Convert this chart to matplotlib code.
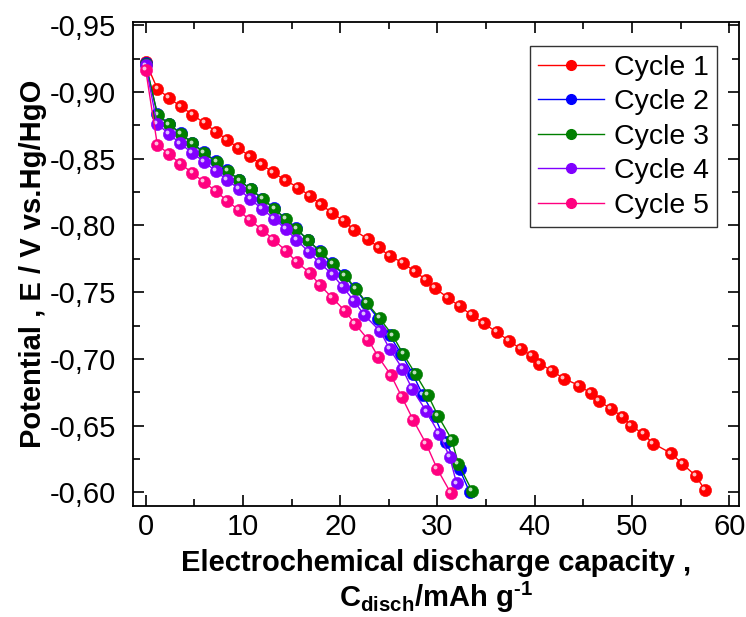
import numpy as np
import matplotlib
matplotlib.use("Agg")
import matplotlib.pyplot as plt
from matplotlib.ticker import MultipleLocator, FuncFormatter
from matplotlib.transforms import offset_copy

plt.rcParams['font.family'] = ['Liberation Sans', 'DejaVu Sans']
plt.rcParams['mathtext.fontset'] = 'custom'
plt.rcParams['mathtext.rm'] = 'Liberation Sans:bold'
plt.rcParams['mathtext.bf'] = 'Liberation Sans:bold'
plt.rcParams['mathtext.default'] = 'bf'

# capacity (mAh/g) and potential (V vs Hg/HgO)
cap1 = [0, 1.20, 2.39, 3.60, 4.80, 6.06, 7.22, 8.36, 9.53, 10.72, 11.89, 13.12, 14.36,
        15.69, 16.86, 18.04, 19.15, 20.42, 21.45, 22.82, 23.95, 25.08, 26.41, 27.65,
        28.81, 29.73, 31.07, 32.27, 33.50, 34.79, 36.07, 37.36, 38.61, 39.70, 40.49,
        41.80, 42.99, 44.57, 45.77, 46.63, 47.79, 49.02, 49.92, 51.18, 52.18, 54.03,
        55.19, 56.53, 57.48]
pot1 = [-0.9225, -0.9026, -0.8955, -0.8893, -0.8831, -0.8766, -0.8703, -0.8643, -0.8580,
        -0.8518, -0.8458, -0.8398, -0.8338, -0.8284, -0.8222, -0.8158, -0.8093, -0.8033,
        -0.7964, -0.7898, -0.7836, -0.7771, -0.7722, -0.7656, -0.7594, -0.7529, -0.7459,
        -0.7394, -0.7330, -0.7265, -0.7201, -0.7136, -0.7072, -0.7022, -0.6965, -0.6909,
        -0.6852, -0.6800, -0.6742, -0.6684, -0.6627, -0.6567, -0.6500, -0.6435, -0.6365,
        -0.6292, -0.6212, -0.6125, -0.6020]

cap2 = [0, 1.20, 2.38, 3.60, 4.78, 5.95, 7.25, 8.40, 9.60, 10.78, 12.00, 13.18, 14.33,
        15.42, 16.65, 17.90, 19.15, 20.40, 21.48, 22.62, 23.90, 25.08, 26.25, 27.45,
        28.47, 29.70, 30.83, 32.27, 33.30]
pot2 = [-0.9215, -0.8835, -0.8762, -0.8690, -0.8620, -0.8550, -0.8480, -0.8415, -0.8340,
        -0.8275, -0.8200, -0.8130, -0.8052, -0.7980, -0.7892, -0.7805, -0.7715, -0.7628,
        -0.7530, -0.7422, -0.7302, -0.7176, -0.7040, -0.6888, -0.6732, -0.6570, -0.6378,
        -0.6172, -0.6003]

cap3 = [0, 1.23, 2.39, 3.63, 4.80, 5.96, 7.30, 8.43, 9.63, 10.82, 12.06, 13.23, 14.39,
        15.49, 16.73, 17.99, 19.25, 20.52, 21.60, 22.76, 24.05, 25.39, 26.49, 27.75,
        29.01, 30.06, 31.47, 32.14, 33.58]
pot3 = [-0.9213, -0.8829, -0.8758, -0.8687, -0.8615, -0.8544, -0.8475, -0.8411, -0.8338,
        -0.8271, -0.8196, -0.8126, -0.8048, -0.7976, -0.7888, -0.7801, -0.7712, -0.7624,
        -0.7525, -0.7418, -0.7304, -0.7176, -0.7035, -0.6886, -0.6731, -0.6572, -0.6395,
        -0.6214, -0.6008]

cap4 = [0, 1.18, 2.39, 3.53, 4.76, 5.98, 7.19, 8.35, 9.58, 10.76, 11.99, 13.19, 14.39,
        15.49, 16.78, 17.88, 19.19, 20.28, 21.41, 22.48, 24.10, 25.08, 26.39, 27.41,
        28.86, 30.14, 31.27, 31.96]
pot4 = [-0.9200, -0.8760, -0.8688, -0.8615, -0.8546, -0.8478, -0.8409, -0.8343, -0.8274,
        -0.8196, -0.8123, -0.8051, -0.7973, -0.7894, -0.7801, -0.7721, -0.7633, -0.7539,
        -0.7435, -0.7328, -0.7208, -0.7075, -0.6927, -0.6772, -0.6606, -0.6440, -0.6263,
        -0.6067]

cap5 = [0, 1.20, 2.39, 3.57, 4.80, 5.99, 7.19, 8.36, 9.56, 10.69, 11.99, 13.12, 14.42,
        15.52, 16.88, 17.88, 19.17, 20.48, 21.55, 22.87, 23.92, 25.23, 26.33, 27.49,
        28.85, 29.98, 31.37]
pot5 = [-0.9168, -0.8606, -0.8535, -0.8463, -0.8394, -0.8325, -0.8259, -0.8186, -0.8115,
        -0.8040, -0.7968, -0.7894, -0.7811, -0.7726, -0.7645, -0.7555, -0.7459, -0.7360,
        -0.7260, -0.7144, -0.7015, -0.6876, -0.6715, -0.6544, -0.6361, -0.6174, -0.5994]

labels = ["Cycle 1", "Cycle 2", "Cycle 3", "Cycle 4", "Cycle 5"]
colors = ["#ff0000", "#0000ff", "#007f00", "#8000ff", "#ff0080"]
caps = [cap1, cap2, cap3, cap4, cap5]
pots = [pot1, pot2, pot3, pot4, pot5]

fig = plt.figure(figsize=(7.46, 6.17), dpi=100)
ax = fig.add_axes([133 / 746, 111 / 617, 606 / 746, 484 / 617])

hl = offset_copy(ax.transData, fig=fig, x=-1.8, y=1.8, units='dots')
for x, y, c, lab in zip(caps, pots, colors, labels):
    ax.plot(x, y, '-', color=c, lw=1.0, marker='o', ms=8.8,
            mfc=c, mec=c, mew=0.4, label=lab)
    # little white shine so the markers look like balls
    ax.plot(x, y, ls='none', marker='o', ms=2.8, mfc='white', mec='none',
            alpha=0.75, transform=hl)

ax.set_xlim(-1.3, 61)
ax.set_ylim(-0.5897, -0.9525)

ax.xaxis.set_major_locator(MultipleLocator(10))
ax.xaxis.set_minor_locator(MultipleLocator(5))
ax.yaxis.set_major_locator(MultipleLocator(0.05))
ax.yaxis.set_minor_locator(MultipleLocator(0.025))
ax.yaxis.set_major_formatter(FuncFormatter(lambda v, p: f"{v:.2f}".replace('.', ',')))

ax.tick_params(which='both', direction='in', top=True, right=True, width=1.2,
               labelsize=21, colors='black')
ax.tick_params(which='major', length=8)
ax.tick_params(which='minor', length=5)
ax.tick_params(axis='y', which='major', pad=12)
ax.tick_params(axis='x', which='major', pad=5)
for s in ax.spines.values():
    s.set_linewidth(1.3)

ax.set_ylabel("Potential , E / V vs.Hg/HgO", fontsize=21, fontweight='bold', labelpad=2)
ax.set_xlabel("Electrochemical discharge capacity ,\nC$_{disch}$/mAh g$^{\\text{-1}}$",
              fontsize=21, fontweight='bold', linespacing=1.1, labelpad=6)

leg = ax.legend(handles=[plt.Line2D([], [], color=c, lw=1.0, marker='o', ms=7,
                                    mfc=c, mec=c) for c in colors],
                labels=labels, loc='upper right', bbox_to_anchor=(0.964, 0.95),
                borderaxespad=0, fontsize=20.5, handlelength=2.3, labelspacing=0.3,
                fancybox=False, framealpha=1, edgecolor='#333333', borderpad=0.3,
                handletextpad=0.35)
leg.get_frame().set_linewidth(1.0)

fig.savefig("out.png", dpi=100)
